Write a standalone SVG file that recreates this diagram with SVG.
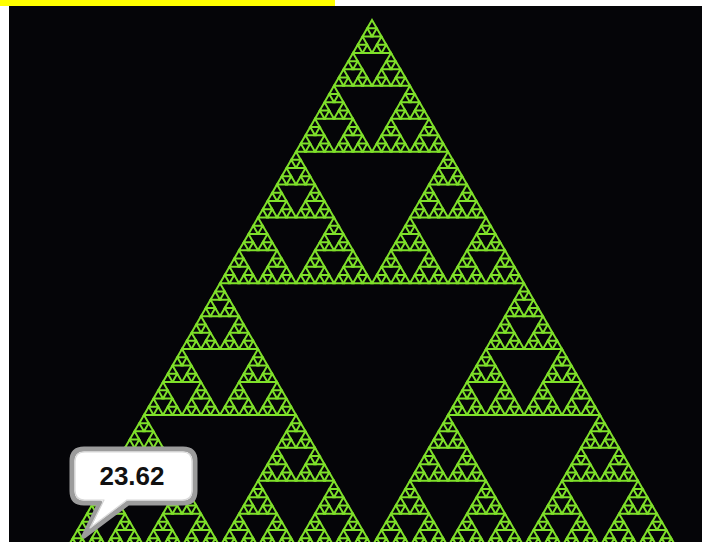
<svg xmlns="http://www.w3.org/2000/svg" xmlns:xlink="http://www.w3.org/1999/xlink" width="702" height="542" viewBox="0 0 702 542">
  <style>
    .tri { fill: none; stroke: #7fe02a; stroke-width: 2; stroke-linejoin: miter; }
    .bubble { fill: #ffffff; stroke: #9c9c9c; stroke-width: 5; stroke-linejoin: round; }
    .bubble-inner { fill: none; stroke: #d8d8d8; stroke-width: 1.2; stroke-linejoin: round; }
    .val { font-family: "Liberation Sans", Arial, sans-serif; font-weight: bold; font-size: 26px; fill: #111111; }
  </style>
  <defs>
    <path id="g0" class="tri" d="M0,0 L4.75,8.227 L-4.75,8.227 Z"/>
    <g id="g1"><use xlink:href="#g0"/><use xlink:href="#g0" x="-4.75" y="8.227"/><use xlink:href="#g0" x="4.75" y="8.227"/></g>
    <g id="g2"><use xlink:href="#g1"/><use xlink:href="#g1" x="-9.5" y="16.454"/><use xlink:href="#g1" x="9.5" y="16.454"/></g>
    <g id="g3"><use xlink:href="#g2"/><use xlink:href="#g2" x="-19" y="32.909"/><use xlink:href="#g2" x="19" y="32.909"/></g>
    <g id="g4"><use xlink:href="#g3"/><use xlink:href="#g3" x="-38" y="65.818"/><use xlink:href="#g3" x="38" y="65.818"/></g>
    <g id="g5"><use xlink:href="#g4"/><use xlink:href="#g4" x="-76" y="131.636"/><use xlink:href="#g4" x="76" y="131.636"/></g>
    <g id="g6"><use xlink:href="#g5"/><use xlink:href="#g5" x="-152" y="263.272"/><use xlink:href="#g5" x="152" y="263.272"/></g>
  </defs>
  <rect x="0" y="0" width="702" height="542" fill="#ffffff"/>
  <rect x="0" y="0" width="335" height="6" fill="#ffff00"/>
  <rect x="9" y="6" width="693" height="536" fill="#050508"/>
  <g id="sierpinski">
    <use xlink:href="#g6" x="372" y="20"/>
  </g>
  <g id="bubble">
    <path class="bubble" d="M84,449 H183 Q195,449 195,461 V491 Q195,503 183,503 H128 L84,536 L100,503 H84 Q72,503 72,491 V461 Q72,449 84,449 Z"/>
    <path class="bubble-inner" d="M85,452 H182 Q192,452 192,462 V490 Q192,500 182,500 H127 L90,528 L104,500 H85 Q75,500 75,490 V462 Q75,452 85,452 Z"/>
    <text class="val" x="132" y="485" text-anchor="middle">23.62</text>
  </g>
</svg>
